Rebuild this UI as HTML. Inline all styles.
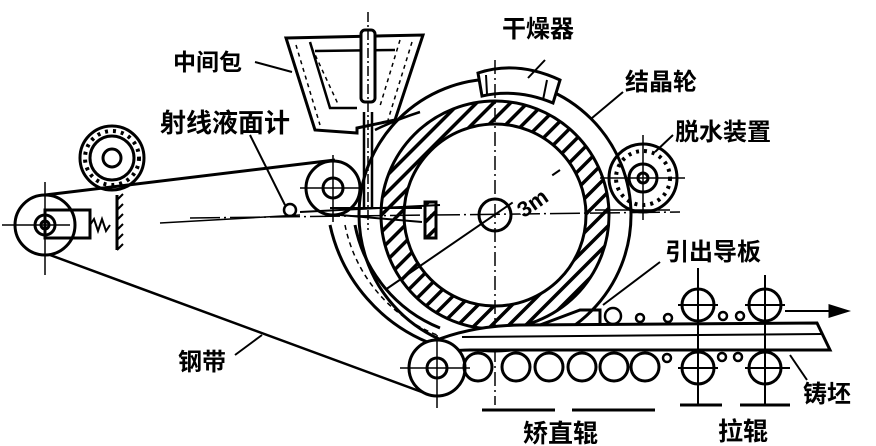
<!DOCTYPE html>
<html><head><meta charset="utf-8"><style>
html,body{margin:0;padding:0;background:#fff;width:876px;height:446px;overflow:hidden}
text{font-family:"Liberation Sans","Noto Sans CJK SC",sans-serif;font-weight:bold;fill:#000}
</style></head><body>
<svg width="876" height="446" viewBox="0 0 876 446" xmlns="http://www.w3.org/2000/svg">
<defs>
<pattern id="h" width="12" height="12" patternUnits="userSpaceOnUse" patternTransform="rotate(45)">
<rect width="12" height="12" fill="#fff"/><rect width="3.5" height="12" fill="#000"/></pattern>
</defs>
<g fill="none" stroke="#000" stroke-width="3">
<path fill-rule="evenodd" fill="url(#h)" d="M381,215a114,114 0 1,0 228,0a114,114 0 1,0 -228,0zM404,215a91,91 0 1,0 182,0a91,91 0 1,0 -182,0z"/>
<circle cx="495" cy="215" r="136"/>
<circle cx="495" cy="215" r="16"/>
<path d="M478,73 Q517,60 560,80 L553,103 Q517,88 482,96 Z" fill="#fff"/>
<path d="M486,75 L487,94 M547,80 L543,100" stroke-width="2"/>
<path d="M286,38 L423,35 L395,120 L357,128 L357,133 L315,130 Z" fill="#fff"/>
<path d="M310,42 L330,108 L357,108" stroke-width="2.5"/>
<path d="M312,48 L338,104 M400,40 L380,106 M296,45 L320,125 M412,42 L388,120" stroke-width="1.5" stroke-dasharray="4,4"/>
<path d="M315,51 L395,50" stroke-width="2.5"/>
<rect x="361" y="30" width="14" height="72" rx="4" fill="#fff"/>
<path d="M364,112 L364,207 M372,112 L372,207" stroke-width="2.5"/>
<path d="M368,12 L368,230" stroke-width="1.5" stroke-dasharray="10,3,2,3"/>
<path d="M375,130 Q395,120 420,112" stroke-width="2.5"/>
<path d="M330,208 L422,208 M340,215 L422,222" stroke-width="2"/>
<rect x="425" y="202" width="11" height="36" fill="url(#h)"/>
<path d="M330,225 A165,165 0 0,0 435,345" stroke-width="3"/>
<path d="M345,225 A150,150 0 0,0 437,335" stroke-width="1.5" stroke-dasharray="5,4"/>
<path d="M355,225 A140,140 0 0,0 440,328" stroke-width="3"/>
<path d="M45,195 L335,160"/>
<path d="M50,255 L430,395" stroke-width="2.5"/>
<path d="M300,212 L440,205" stroke-width="2"/>
<circle cx="45" cy="225" r="30"/><circle cx="45" cy="225" r="10"/><circle cx="45" cy="225" r="4"/>
<rect x="45" y="210" width="45" height="28"/>
<path d="M90,225 l4,-6 l4,12 l4,-12 l4,12 l4,-6" stroke-width="2"/>
<path d="M117,195 L117,250" stroke-width="3"/>
<path d="M117,200 l6,-6 M117,210 l6,-6 M117,220 l6,-6 M117,230 l6,-6 M117,240 l6,-6 M117,250 l6,-6" stroke-width="2"/>
<path d="M2,225 L70,225 M45,182 L45,275 M160,223 L300,215" stroke-width="1.5"/>
<circle cx="112" cy="158" r="32"/><circle cx="112" cy="158" r="22"/><circle cx="112" cy="158" r="9"/>
<circle cx="112" cy="158" r="27" stroke-width="4" stroke-dasharray="3,5"/>
<circle cx="333" cy="188" r="27"/><circle cx="333" cy="188" r="10"/>
<path d="M300,188 L365,188 M333,155 L333,222" stroke-width="1.5"/>
<circle cx="290" cy="210" r="6" stroke-width="2.5"/>
<circle cx="643" cy="178" r="34"/><circle cx="643" cy="178" r="14"/><circle cx="643" cy="178" r="5"/>
<circle cx="643" cy="178" r="27" stroke-width="4" stroke-dasharray="3,5"/>
<path d="M600,178 L685,178 M643,135 L643,220 M595,210 L670,210" stroke-width="1.5"/>
<path d="M495,60 L495,405" stroke-width="1.5" stroke-dasharray="14,4,2,4"/>
<path d="M190,218 L680,212" stroke-width="1.5" stroke-dasharray="30,4,2,4"/>
<path d="M385,290 L560,170" stroke-width="2"/>
<!-- strand -->
<path d="M432,342 Q470,326 520,325 L817,323 L830,350 L470,350 Q448,350 432,355" stroke-width="3" fill="#fff"/>
<path d="M462,337 L822,334" stroke-width="2"/>
<path d="M540,325 L580,310 L600,310 L600,325"/>
<circle cx="613" cy="316" r="8" stroke-width="2.5"/>
<circle cx="640" cy="318" r="4" stroke-width="2.5"/><circle cx="668" cy="318" r="4" stroke-width="2.5"/>
<circle cx="723" cy="316" r="4" stroke-width="2.5"/><circle cx="740" cy="316" r="4" stroke-width="2.5"/>
<circle cx="698" cy="305" r="16"/><circle cx="765" cy="305" r="16"/>
<circle cx="698" cy="368" r="16"/><circle cx="765" cy="368" r="16"/>
<path d="M698,268 L698,405 M765,275 L765,405 M678,305 L718,305 M745,305 L785,305 M678,368 L718,368 M745,368 L790,368" stroke-width="2"/>
<path d="M680,405 L722,405 M740,405 L790,405" stroke-width="3"/>
<path d="M785,311 L840,311" stroke-width="2"/>
<path d="M846,311 L830,306 L830,316 Z" fill="#000"/>
<circle cx="437" cy="368" r="28" fill="#fff"/><circle cx="437" cy="368" r="10"/>
<path d="M400,368 L470,368 M437,335 L437,408" stroke-width="1.5"/>
<circle cx="478" cy="367" r="14"/><circle cx="516" cy="367" r="14"/><circle cx="549" cy="367" r="14"/>
<circle cx="582" cy="367" r="14"/><circle cx="614" cy="367" r="14"/><circle cx="645" cy="367" r="14"/>
<circle cx="667" cy="358" r="4" stroke-width="2.5"/><circle cx="722" cy="357" r="4" stroke-width="2.5"/><circle cx="738" cy="357" r="4" stroke-width="2.5"/>
<path d="M482,410 L555,410 M572,410 L655,410" stroke-width="3"/>
<path d="M255,62 L292,72" stroke-width="2"/>
<path d="M250,135 L285,205" stroke-width="2"/>
<path d="M545,60 L528,78" stroke-width="2"/>
<path d="M623,92 L592,118" stroke-width="2"/>
<path d="M673,135 L655,152" stroke-width="2"/>
<path d="M660,262 L603,305" stroke-width="2"/>
<path d="M262,335 L235,355" stroke-width="2"/>
<path d="M807,380 L790,355" stroke-width="2"/>
</g>
<rect x="512" y="182" width="48" height="24" fill="#fff" transform="rotate(-35 536 194)"/>
<text x="512" y="207" font-size="22" transform="rotate(-35 536 194)">3m</text>
<text x="173" y="70" font-size="23">中间包</text>
<text x="160" y="132" font-size="26">射线液面计</text>
<text x="502" y="37" font-size="24">干燥器</text>
<text x="625" y="90" font-size="24">结晶轮</text>
<text x="675" y="140" font-size="24">脱水装置</text>
<text x="665" y="260" font-size="24">引出导板</text>
<text x="178" y="370" font-size="24">钢带</text>
<text x="803" y="402" font-size="24">铸坯</text>
<text x="523" y="442" font-size="25">矫直辊</text>
<text x="718" y="440" font-size="25">拉辊</text>
</svg>
</body></html>
